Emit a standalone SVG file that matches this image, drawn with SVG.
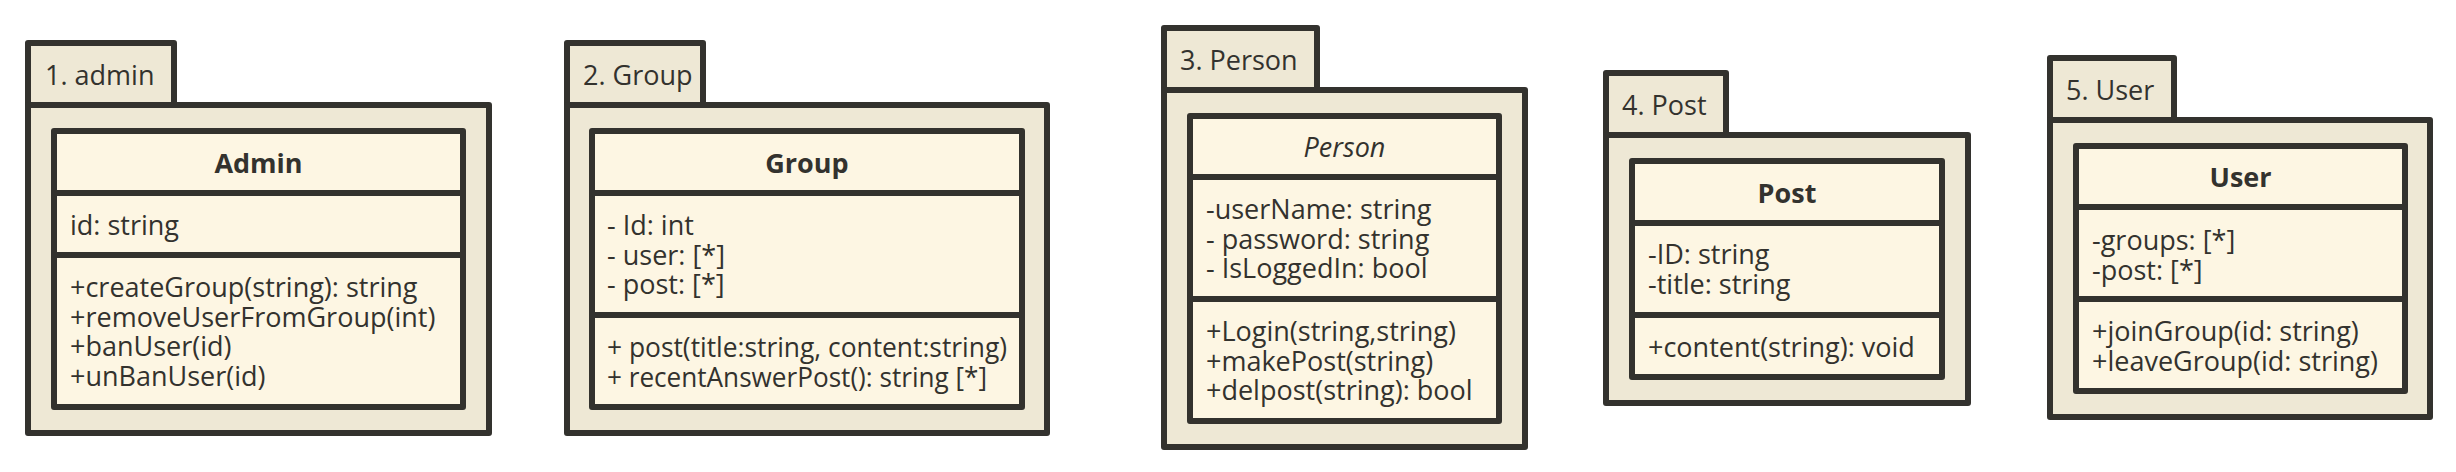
<svg xmlns="http://www.w3.org/2000/svg" width="2456" height="472" viewBox="0 0 2456 472">
<style>
.pkg{fill:#eee8d5;stroke:#33322e;stroke-width:6;stroke-linejoin:round}
.cls{fill:#fdf6e3;stroke:#33322e;stroke-width:6;stroke-linejoin:round}
.div{stroke:#33322e;stroke-width:6;fill:none}
text{font-family:"Open Sans","Noto Sans",sans-serif;font-size:27px;fill:#33322e}
.t{font-weight:bold;text-anchor:middle}
.ti{font-style:italic;text-anchor:middle}
</style>
<rect x="0" y="0" width="2456" height="472" fill="#ffffff"/>
<g id="pkg-admin">
<rect class="pkg" x="28" y="43" width="146" height="62"/>
<rect class="pkg" x="28" y="105" width="461" height="328"/>
<text x="45" y="85">1. admin</text>
<g id="class-admin">
<rect class="cls" x="54" y="131" width="409" height="276"/>
<line class="div" x1="54" y1="193" x2="463" y2="193"/>
<line class="div" x1="54" y1="255" x2="463" y2="255"/>
<text class="t" x="258.5" y="173">Admin</text>
<text x="70" y="235">id: string</text>
<text x="70" y="297">+createGroup(string): string</text>
<text x="70" y="326.5">+removeUserFromGroup(int)</text>
<text x="70" y="356">+banUser(id)</text>
<text x="70" y="385.5">+unBanUser(id)</text>
</g>
</g>
<g id="pkg-group">
<rect class="pkg" x="567" y="43" width="136" height="62"/>
<rect class="pkg" x="567" y="105" width="480" height="328"/>
<text x="583" y="85">2. Group</text>
<g id="class-group">
<rect class="cls" x="592" y="131" width="430" height="276"/>
<line class="div" x1="592" y1="193" x2="1022" y2="193"/>
<line class="div" x1="592" y1="315" x2="1022" y2="315"/>
<text class="t" x="807" y="173">Group</text>
<text x="607" y="235">- Id: int</text>
<text x="607" y="264.5">- user: [*]</text>
<text x="607" y="294">- post: [*]</text>
<text x="607" y="357" textLength="400" lengthAdjust="spacingAndGlyphs">+ post(title:string, content:string)</text>
<text x="607" y="386.5" textLength="380" lengthAdjust="spacingAndGlyphs">+ recentAnswerPost(): string [*]</text>
</g>
</g>
<g id="pkg-person">
<rect class="pkg" x="1164" y="28" width="153" height="62"/>
<rect class="pkg" x="1164" y="90" width="361" height="357"/>
<text x="1180" y="70">3. Person</text>
<g id="class-person">
<rect class="cls" x="1190" y="116" width="309" height="305"/>
<line class="div" x1="1190" y1="177" x2="1499" y2="177"/>
<line class="div" x1="1190" y1="299" x2="1499" y2="299"/>
<text class="ti" x="1344.5" y="157">Person</text>
<text x="1206" y="219">-userName: string</text>
<text x="1206" y="248.5">- password: string</text>
<text x="1206" y="278">- IsLoggedIn: bool</text>
<text x="1206" y="341">+Login(string,string)</text>
<text x="1206" y="370.5">+makePost(string)</text>
<text x="1206" y="400">+delpost(string): bool</text>
</g>
</g>
<g id="pkg-post">
<rect class="pkg" x="1606" y="73" width="120" height="62"/>
<rect class="pkg" x="1606" y="135" width="362" height="268"/>
<text x="1622" y="115">4. Post</text>
<g id="class-post">
<rect class="cls" x="1632" y="161" width="310" height="216"/>
<line class="div" x1="1632" y1="223" x2="1942" y2="223"/>
<line class="div" x1="1632" y1="315" x2="1942" y2="315"/>
<text class="t" x="1787" y="203">Post</text>
<text x="1648" y="264">-ID: string</text>
<text x="1648" y="293.5">-title: string</text>
<text x="1648" y="357">+content(string): void</text>
</g>
</g>
<g id="pkg-user">
<rect class="pkg" x="2050" y="58" width="124" height="62"/>
<rect class="pkg" x="2050" y="120" width="380" height="297"/>
<text x="2066" y="100">5. User</text>
<g id="class-user">
<rect class="cls" x="2076" y="146" width="329" height="245"/>
<line class="div" x1="2076" y1="207" x2="2405" y2="207"/>
<line class="div" x1="2076" y1="299" x2="2405" y2="299"/>
<text class="t" x="2240.5" y="187">User</text>
<text x="2092" y="250">-groups: [*]</text>
<text x="2092" y="279.5">-post: [*]</text>
<text x="2092" y="341">+joinGroup(id: string)</text>
<text x="2092" y="370.5">+leaveGroup(id: string)</text>
</g>
</g>
<g id="connectors"></g>
</svg>
